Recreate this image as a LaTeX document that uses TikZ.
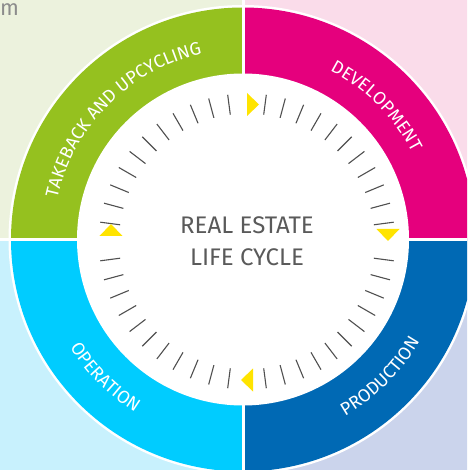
\documentclass[tikz,border=0pt]{standalone}
\usepackage{fontspec}
\usetikzlibrary{decorations.text}
\newfontfamily\labelfont{Fira Sans}
\definecolor{takeback}{HTML}{95C11F}
\definecolor{develop}{HTML}{E5007D}
\definecolor{operate}{HTML}{00CCFF}
\definecolor{produce}{HTML}{0069B4}
\definecolor{takebackbg}{HTML}{ECF2DD}
\definecolor{developbg}{HTML}{FADCEA}
\definecolor{operatebg}{HTML}{C8F1FD}
\definecolor{producebg}{HTML}{CBD4EC}
\definecolor{pointer}{HTML}{FFE400}
\definecolor{tickgray}{HTML}{505050}
\definecolor{titlegray}{HTML}{5A5A5A}
\newcommand{\ringfont}{\labelfont\fontsize{18}{18}\selectfont\color{white}}

\begin{document}
\begin{tikzpicture}[x=1pt,y=1pt,
  gap/.style={white,line width=3pt},
  tickmark/.style={tickgray,line width=1.1pt},
  arrowhead/.style={fill=pointer},
  ringtext/.style={decorate,decoration={text along path,text align=center,text={|\ringfont|#1}}}]
  \useasboundingbox (-243,-230.5) rectangle (224,239.5);
  \clip (-243,-230.5) rectangle (224,239.5);
  % light quadrants behind the ring
  \fill[takebackbg] (0,0) rectangle (-250,250);
  \fill[developbg] (0,0) rectangle (250,250);
  \fill[operatebg] (0,0) rectangle (-250,-250);
  \fill[producebg] (0,0) rectangle (250,-250);
  \fill[white] (0,0) circle[radius=234.5];
  % the four phases
  \fill[takeback] (0,0) -- (90:232) arc[start angle=90,end angle=180,radius=232] -- cycle;
  \fill[develop] (0,0) -- (0:232) arc[start angle=0,end angle=90,radius=232] -- cycle;
  \fill[operate] (0,0) -- (180:232) arc[start angle=180,end angle=270,radius=232] -- cycle;
  \fill[produce] (0,0) -- (270:232) arc[start angle=270,end angle=360,radius=232] -- cycle;
  \draw[gap] (-250,0) -- (250,0);
  \draw[gap] (0,-250) -- (0,250);
  \fill[white] (0,0) circle[radius=166];

  % clock ticks
  \coordinate (hub) at (4,-2);
  \foreach \q in {0,90,180,270}
    \foreach \k in {1,...,11}
      \draw[tickmark] ([shift={(\q+7.5*\k:128)}]hub) -- ([shift={(\q+7.5*\k:148)}]hub);
  \foreach \p/\r in {{10,135}/0,{145,4.5}/-90,{4,-140.5}/180,{-132,9.5}/90}
    \fill[arrowhead,shift={(\p)},rotate=\r] (-6,11.5) -- (6,0) -- (-6,-11.5) -- cycle;

  % labels
  \path[ringtext=TAKEBACK AND UPCYCLING] (180:190) arc[start angle=180,end angle=90,radius=190];
  \path[ringtext=DEVELOPMENT] (90:190) arc[start angle=90,end angle=0,radius=190];
  \path[ringtext=OPERATION] (180:204) arc[start angle=180,end angle=270,radius=204];
  \path[ringtext=PRODUCTION] (270:204) arc[start angle=270,end angle=360,radius=204];
  \node[titlegray,font=\labelfont\fontsize{24}{32}\selectfont,align=center] (title) at (hub) {REAL ESTATE\\LIFE CYCLE};
  \node[gray!90,font=\labelfont\fontsize{22}{22}\selectfont,anchor=north west,inner sep=0] (corner) at (-243,236.5) {m};
\end{tikzpicture}
\end{document}
